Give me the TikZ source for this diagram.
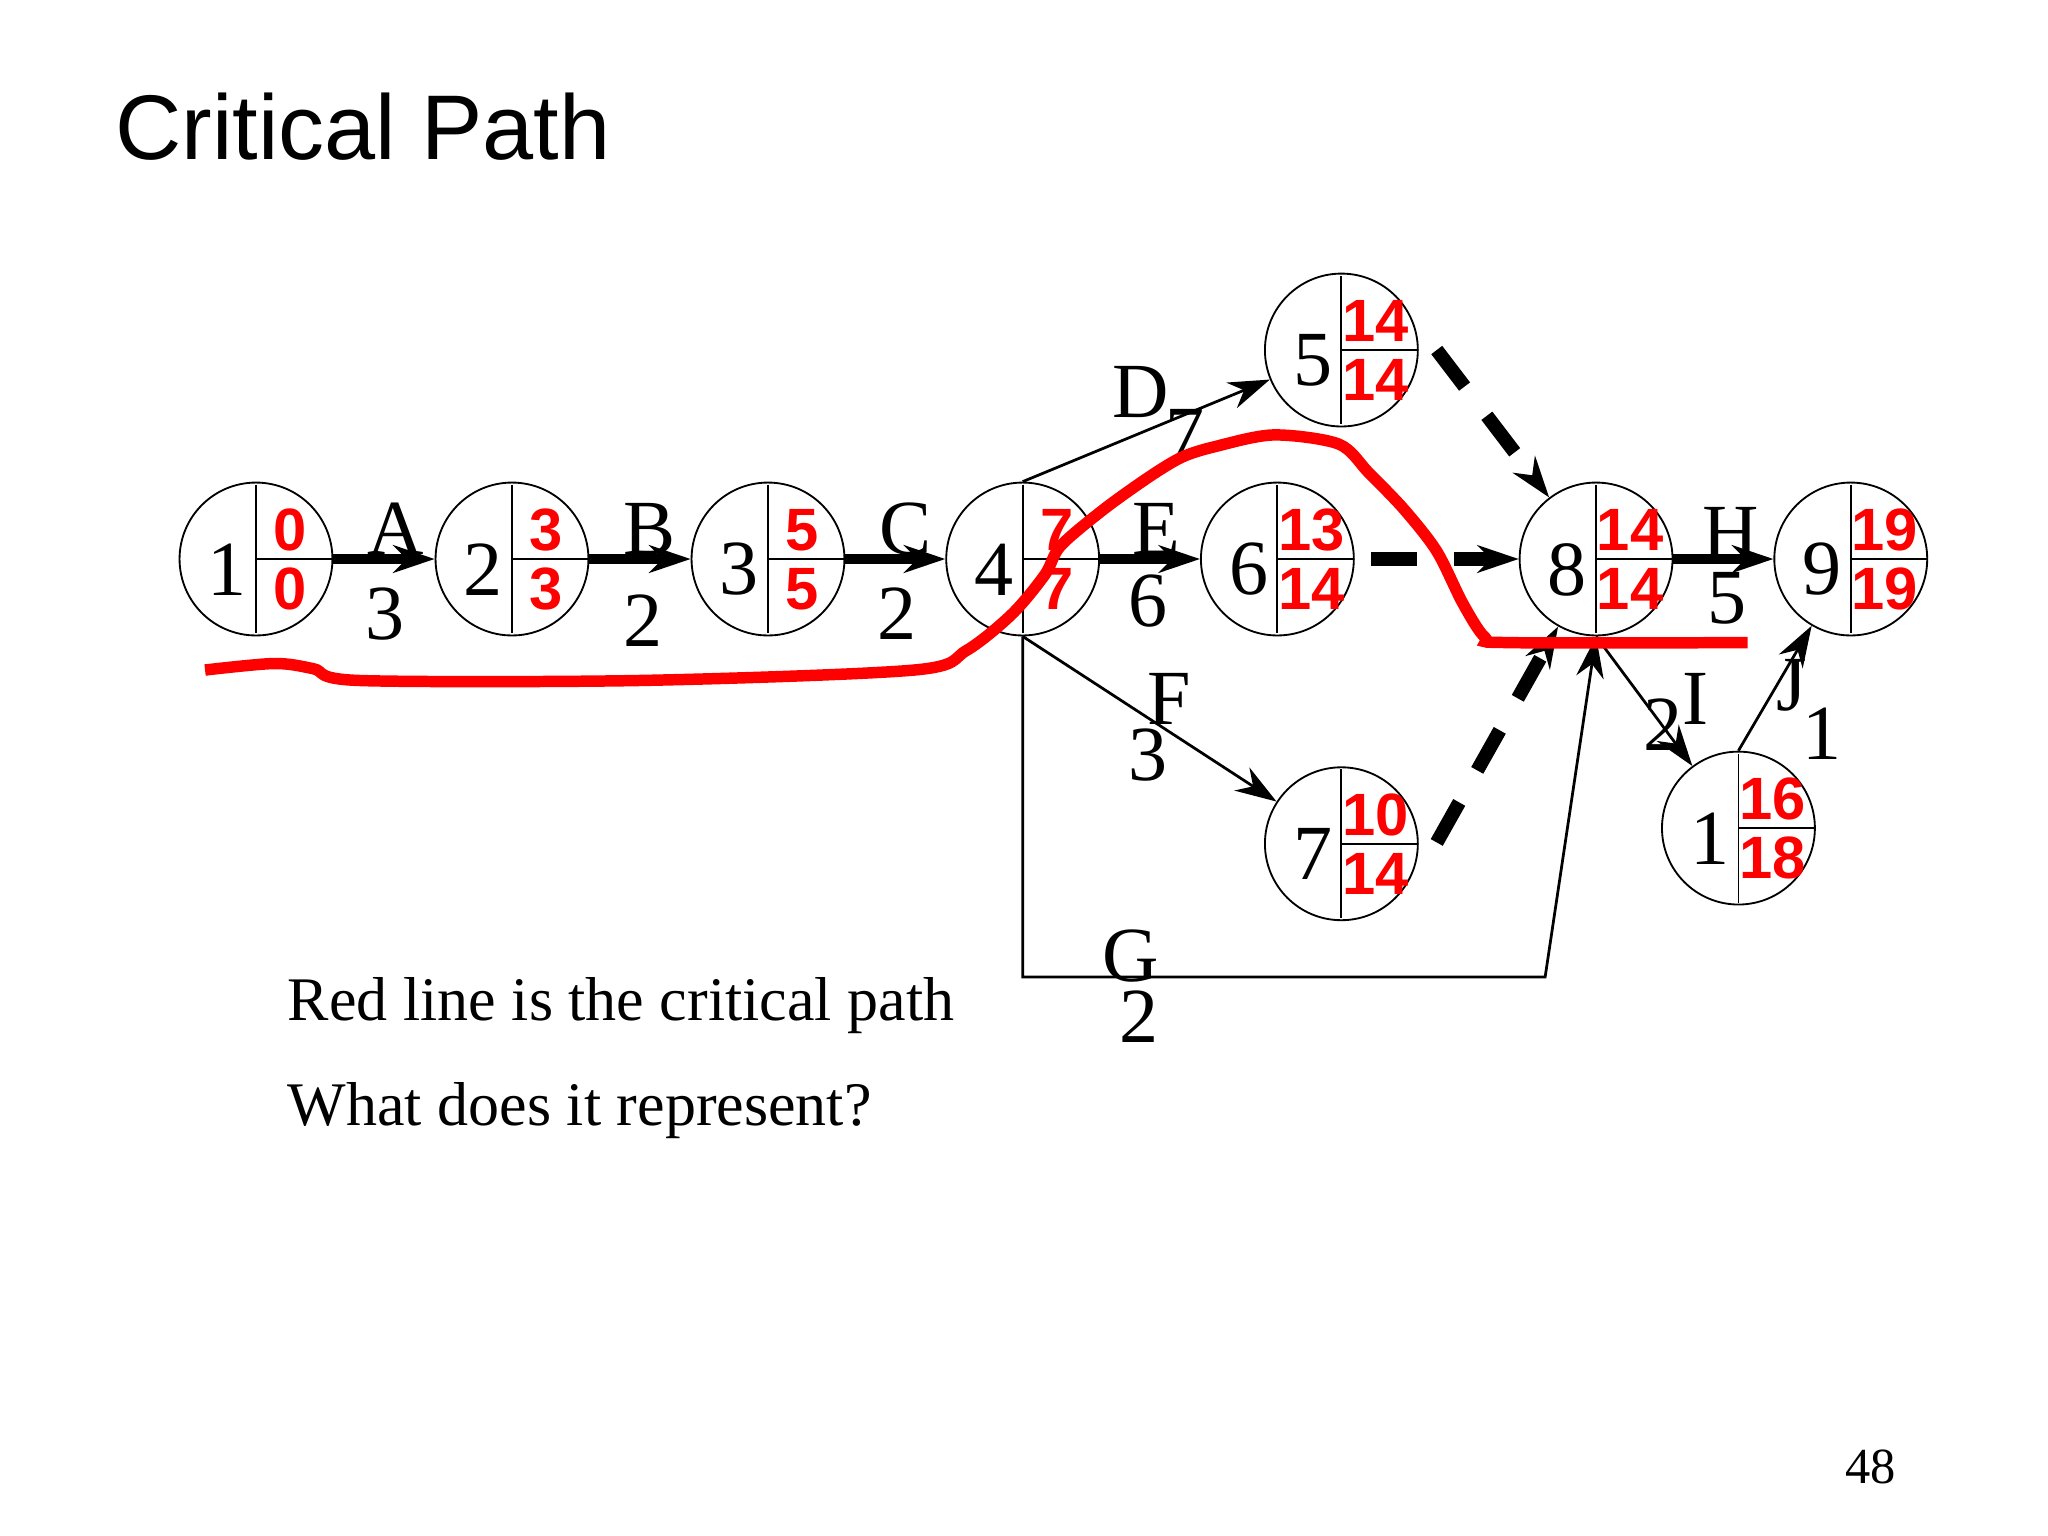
\documentclass[tikz,border=0pt]{standalone}
\usepackage{fontspec}
\setmainfont{Liberation Serif}
\newfontfamily\sansf{Liberation Sans}
\usetikzlibrary{arrows.meta}
\begin{document}
\begin{tikzpicture}[x=0.01cm,y=-0.01cm,
  ev/.style={circle,draw,thin,minimum size=1.17cm,inner sep=0pt},
  num/.style={font=\fontsize{17}{17}\selectfont},
  rnum/.style={text=red,font=\sansf\bfseries\fontsize{13}{13}\selectfont},
  lab/.style={font=\fontsize{17}{17}\selectfont},
  arr/.style={-{Stealth[length=9pt,width=6pt]}},
  sol/.style={arr,line width=2.2pt},
  dsh/.style={arr,line width=3pt,dash pattern=on 10pt off 8pt}]
\useasboundingbox (0,0) rectangle (1568,1176);
\newcommand\evt[6]{%
  \node[ev] (#1) at (#2,#3) {};
  \draw (#2,#3-57) -- (#2,#3+57) (#2,#3) -- (#2+58,#3);
  \node[num] (#1l) at (#2-22,#3+8) {#4};
  \node[rnum] (#1t) at (#2+26,#3-22) {#5};
  \node[rnum] (#1b) at (#2+26,#3+23) {#6};}
\evt{n1}{196}{428}{1}{0}{0}
\evt{n2}{392}{428}{2}{3}{3}
\evt{n3}{588}{428}{3}{5}{5}
\evt{n4}{783}{428}{4}{7}{7}
\evt{n6}{978}{428}{6}{13}{14}
\evt{n8}{1222}{428}{8}{14}{14}
\evt{n9}{1417}{428}{9}{19}{19}
\evt{n5}{1027}{268}{5}{14}{14}
\evt{n7}{1027}{646}{7}{10}{14}
\evt{n10}{1331}{634}{1}{16}{18}
\node[anchor=west,font=\sansf\fontsize{20}{20}\selectfont] (title) at (76,97) {Critical Path};
\draw[sol] (n1) -- (n2);
\draw[sol] (n2) -- (n3);
\draw[sol] (n3) -- (n4);
\draw[sol] (n4) -- (n6);
\draw[sol] (n8) -- (n9);
\draw[arr,semithick] (n4.north) -- (n5);
\draw[arr,semithick] (n4.south) -- (n7);
\draw[arr,semithick] (n8.south) -- (n10);
\draw[arr,semithick] (n10.north) -- (n9);
\coordinate (g1) at (783,748);
\coordinate (g2) at (1183,748);
\draw[arr,semithick] (n4.south) -- (g1) -- (g2) -- (n8.south);
\draw[dsh] (1100,268) -- (n8);
\draw[dsh] (1050,428) -- (n8);
\draw[dsh] (1100,645) -- (n8);
\node[lab] (la) at (303,405) {A}; \node[lab] (la2) at (295,470) {3};
\node[lab] (lb) at (497,405) {B}; \node[lab] (lb2) at (492,475) {2};
\node[lab] (lc) at (693,405) {C}; \node[lab] (lc2) at (687,470) {2};
\node[lab] (ld) at (873,300) {D}; \node[lab] (ld2) at (907,333) {7};
\node[lab] (le) at (885,405) {E}; \node[lab] (le2) at (879,460) {6};
\node[lab] (lf) at (895,535) {F}; \node[lab] (lf2) at (879,578) {3};
\node[lab] (lg) at (866,732) {G}; \node[lab] (lg2) at (872,778) {2};
\node[lab] (lh) at (1325,408) {H}; \node[lab] (lh2) at (1322,458) {5};
\node[lab] (li) at (1298,535) {I}; \node[lab] (li2) at (1273,555) {2};
\node[lab] (lj) at (1372,525) {J}; \node[lab] (lj2) at (1395,562) {1};
\draw[red,line width=2.5pt] plot[smooth,tension=0.5] coordinates{(157,513) (210,508) (240,512) (275,521) (490,521) (700,513) (740,498) (775,470) (800,440) (812,418) (845,390) (880,365) (905,350) (930,342) (975,333) (1025,340) (1048,362) (1075,390) (1100,422) (1120,462) (1137,488) (1155,492) (1338,492)};
\node[anchor=west,font=\fontsize{13.5}{13.5}\selectfont] (t1) at (208,770) {Red line is the critical path};
\node[anchor=west,font=\fontsize{13.5}{13.5}\selectfont] (t2) at (208,850) {What does it represent?};
\node[font=\fontsize{11}{11}\selectfont] (pg) at (1432,1123) {48};
\end{tikzpicture}
\end{document}
